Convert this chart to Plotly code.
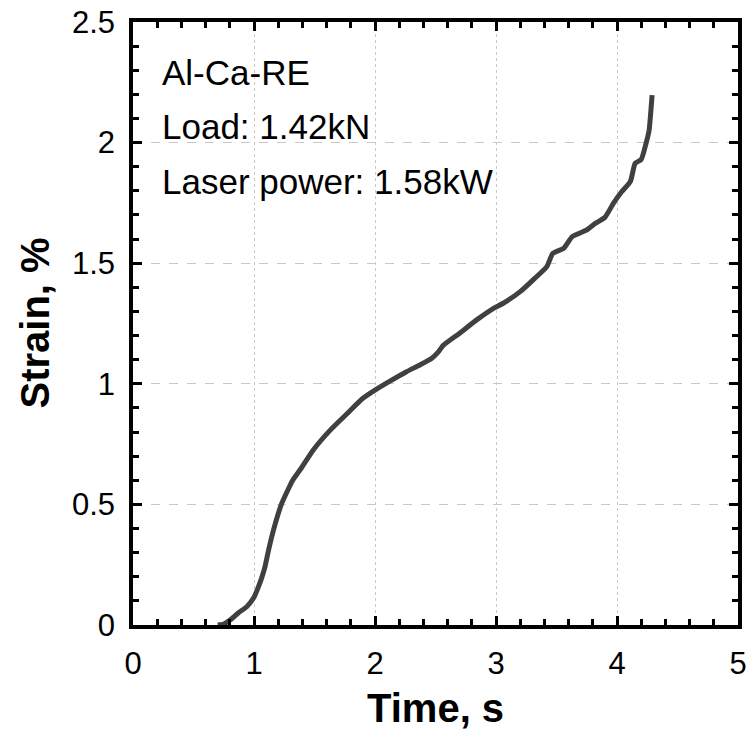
import plotly.graph_objects as go

time_s = [0.70, 0.75, 0.80, 0.87, 0.94, 1.00, 1.03, 1.06, 1.09, 1.12, 1.17, 1.23,
          1.32, 1.39, 1.49, 1.63, 1.77, 1.90, 2.00, 2.12, 2.26, 2.37, 2.47, 2.52,
          2.565, 2.70, 2.84, 2.98, 3.06, 3.20, 3.32, 3.42, 3.47, 3.56, 3.63, 3.75,
          3.82, 3.90, 3.97, 4.04, 4.11, 4.15, 4.20, 4.24, 4.265, 4.29]
strain_pct = [0.0, 0.004, 0.02, 0.05, 0.076, 0.115, 0.15, 0.19, 0.24, 0.31, 0.41, 0.505,
              0.60, 0.65, 0.726, 0.808, 0.877, 0.94, 0.974, 1.01, 1.05, 1.078, 1.106, 1.13,
              1.16, 1.21, 1.265, 1.313, 1.334, 1.382, 1.437, 1.486, 1.541, 1.562, 1.61, 1.638,
              1.665, 1.69, 1.748, 1.797, 1.838, 1.914, 1.93, 1.997, 2.05, 2.197]

x_ticks = [0, 1, 2, 3, 4, 5]
x_labels = ["0", "1", "2", "3", "4", "5"]
y_ticks = [0, 0.5, 1, 1.5, 2, 2.5]
y_labels = ["0", "0.5", "1", "1.5", "2", "2.5"]
notes = ["Al-Ca-RE", "Load: 1.42kN", "Laser power: 1.58kW"]
note_y = [2.29, 2.065, 1.837]
x_title = "Time, s"
y_title = "Strain, %"

FONT = "Liberation Sans, Arial, sans-serif"

fig = go.Figure()
fig.add_trace(go.Scatter(x=time_s, y=strain_pct, mode="lines",
                         line=dict(color="#404040", width=5, shape="spline", smoothing=0.5),
                         showlegend=False))

for t, yy in zip(notes, note_y):
    fig.add_annotation(x=0.22, y=yy, xref="x", yref="y", text=t, showarrow=False,
                       xanchor="left", yanchor="middle",
                       font=dict(family=FONT, size=35, color="black"))

# axis titles placed as annotations for exact positioning
fig.add_annotation(x=0.5, y=-(708 - 625) / 603, xref="paper", yref="paper",
                   text="<b>" + x_title + "</b>", showarrow=False,
                   xanchor="center", yanchor="middle",
                   font=dict(family=FONT, size=40, color="black"))
fig.add_annotation(x=-(133 - 34) / 605, y=0.5, xref="paper", yref="paper",
                   text="<b>" + y_title + "</b>", showarrow=False, textangle=-90,
                   xanchor="center", yanchor="middle",
                   font=dict(family=FONT, size=40, color="black"))

axis_common = dict(
    showline=True, linecolor="black", linewidth=3.5, mirror="allticks",
    ticks="inside", ticklen=9, tickwidth=3, tickcolor="black",
    showgrid=True, gridcolor="#c8c8c8", gridwidth=1,
    zeroline=False,
    tickfont=dict(family=FONT, size=31, color="black"),
)

fig.update_xaxes(**axis_common, range=[0, 5], tickvals=x_ticks, ticktext=x_labels,
                 griddash="dot",
                 minor=dict(dtick=0.2, tick0=0, ticks="inside", ticklen=6, tickwidth=3,
                            tickcolor="black", showgrid=False),
                 ticklabelstandoff=8)
fig.update_yaxes(**axis_common, range=[0, 2.5], tickvals=y_ticks, ticktext=y_labels,
                 griddash="dash",
                 minor=dict(dtick=0.1, tick0=0, ticks="inside", ticklen=6, tickwidth=3,
                            tickcolor="black", showgrid=False),
                 ticklabelstandoff=8)

fig.update_layout(width=752, height=735,
                  margin=dict(l=133, r=14, t=22, b=110, autoexpand=False),
                  paper_bgcolor="white", plot_bgcolor="white",
                  font=dict(family=FONT, color="black"))

fig.write_html("out.html", config={"displayModeBar": False},
               post_script="document.body.style.margin='0';document.body.style.overflow='hidden';")
